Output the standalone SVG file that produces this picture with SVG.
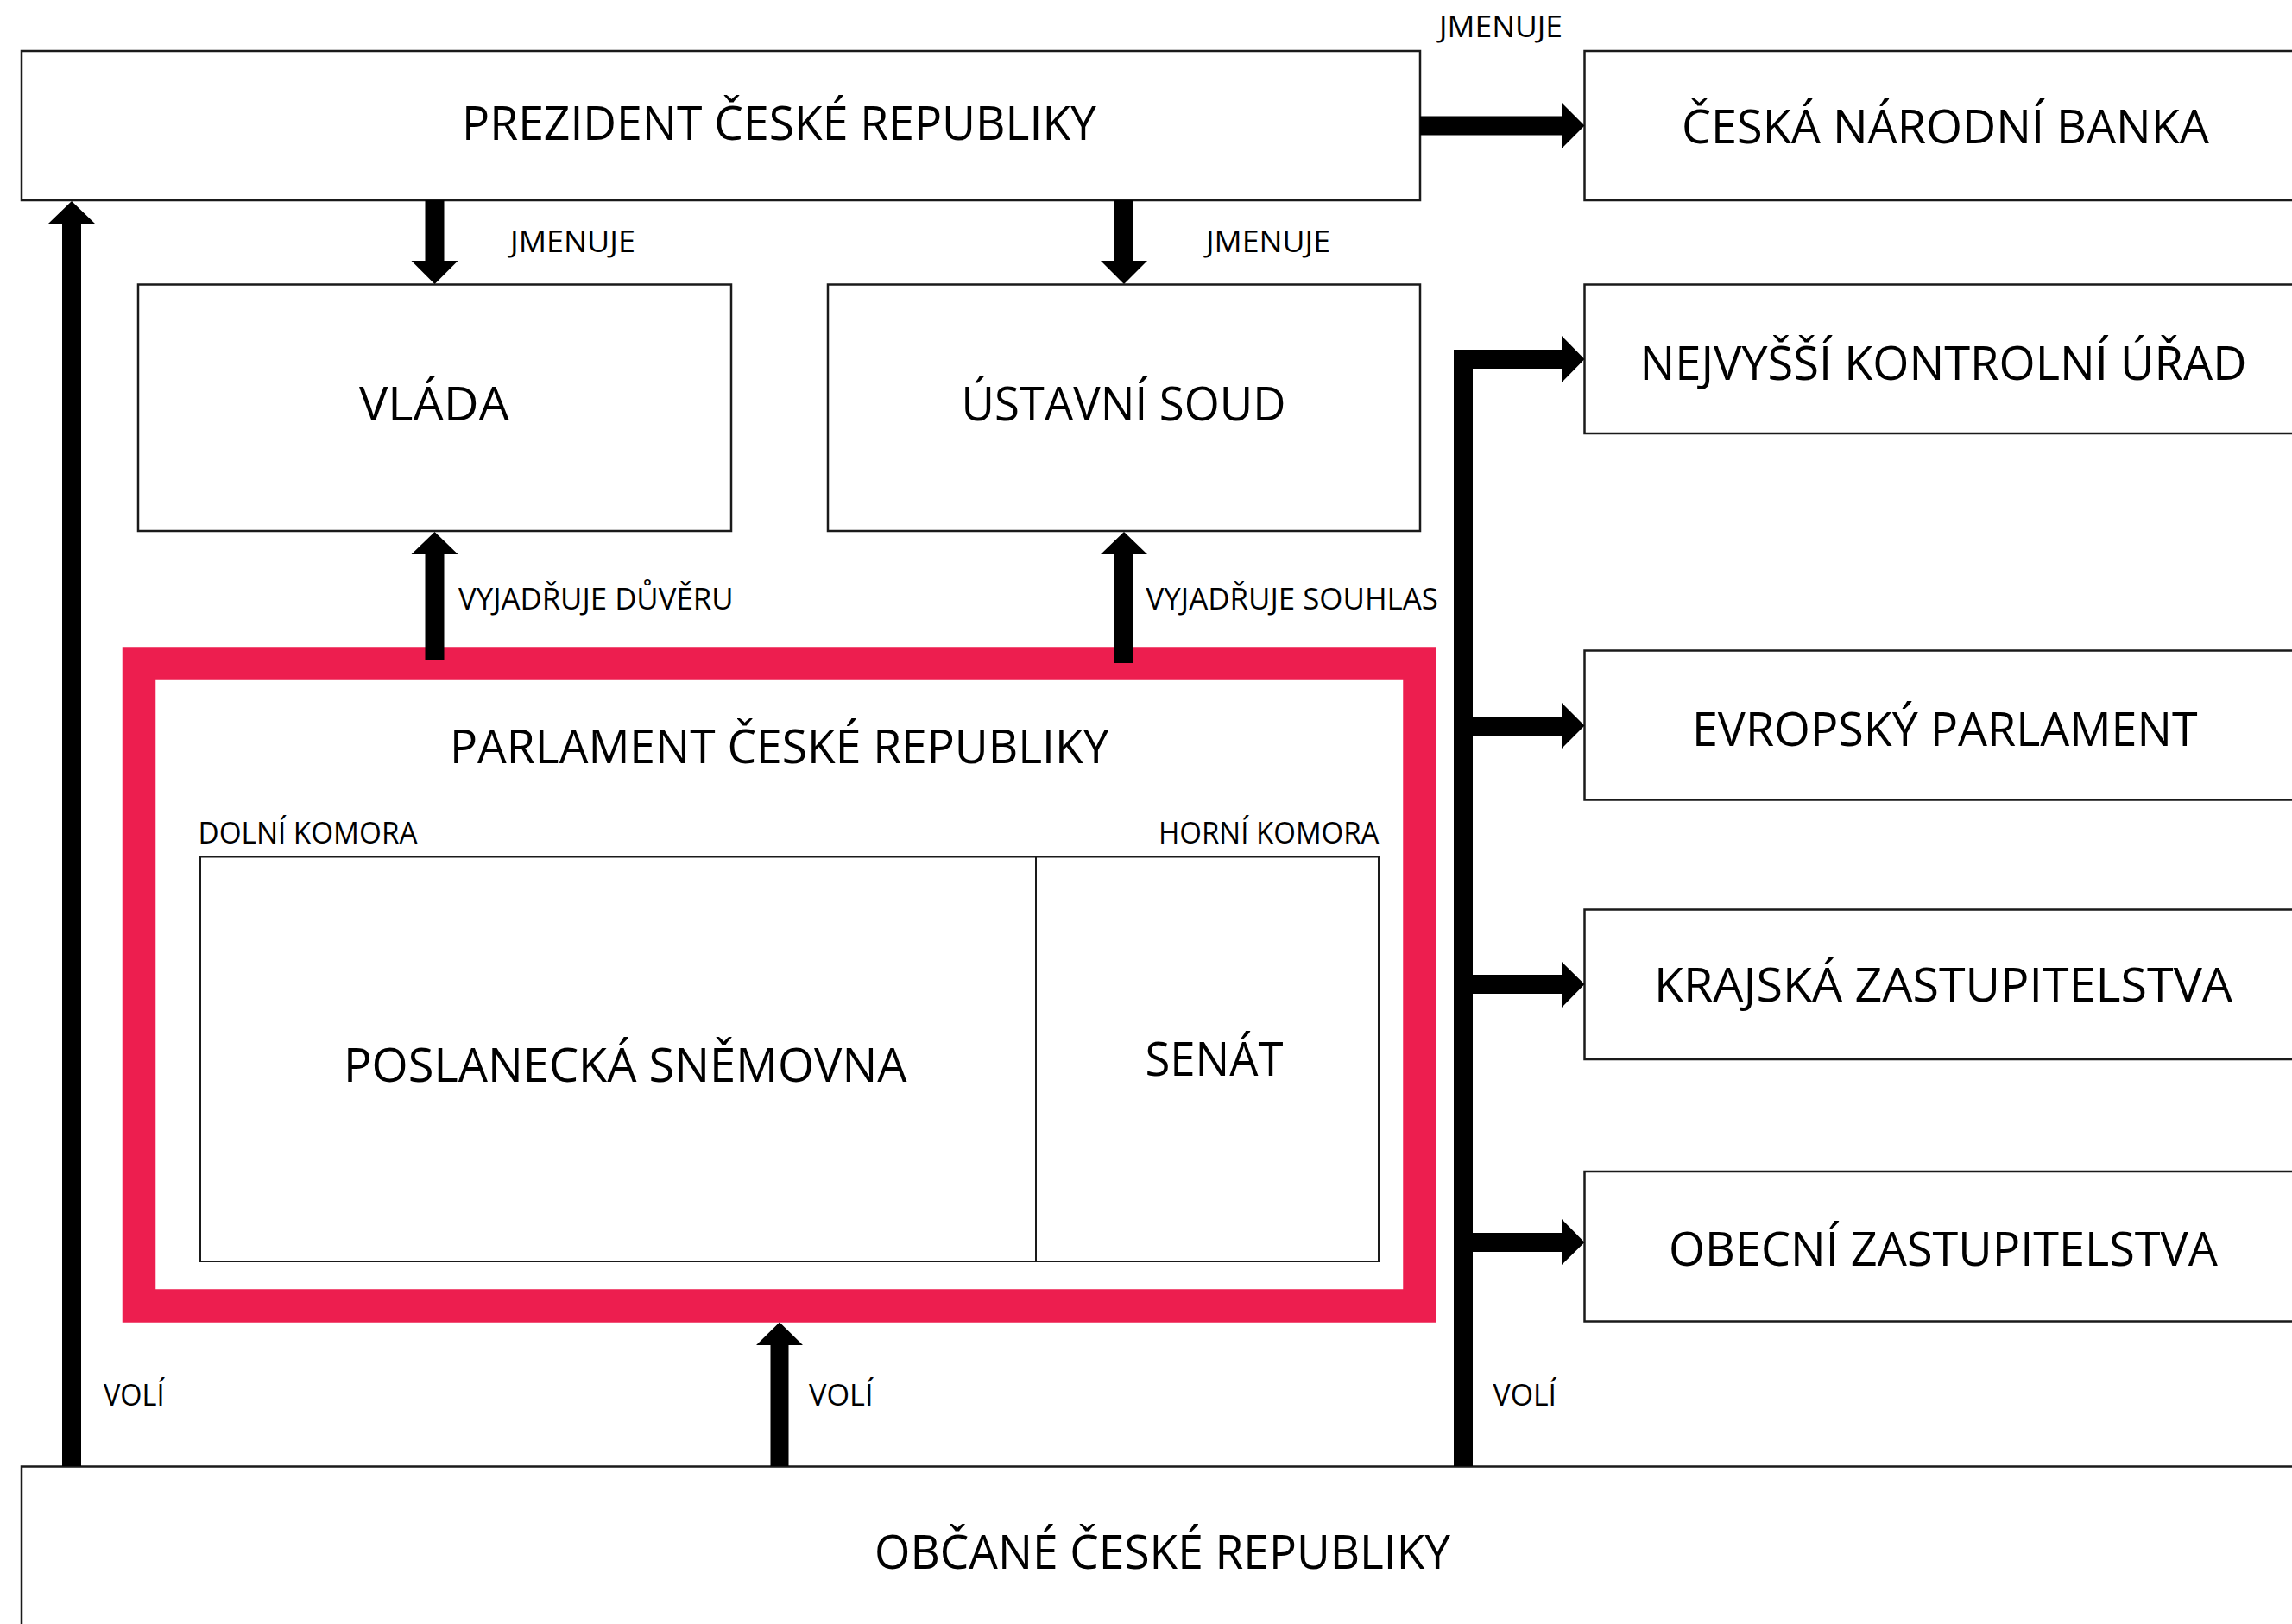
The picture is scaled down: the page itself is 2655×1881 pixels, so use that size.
<svg xmlns="http://www.w3.org/2000/svg" width="2655" height="1881" viewBox="0 0 2655 1881">
<style>
.box{fill:#fff;stroke:#1a1a1a;stroke-width:2.5}
.ibox{fill:none;stroke:#1a1a1a;stroke-width:2}
.big{font-family:"Open Sans","Noto Sans","Liberation Sans",sans-serif;font-size:55px;fill:#000}
.sm{font-family:"Open Sans","Noto Sans","Liberation Sans",sans-serif;font-size:35px;fill:#000}
.arr{fill:#000;stroke:none}
</style>
<rect x="0" y="0" width="2655" height="1881" fill="#fff"/>
<g id="prezident">
<rect class="box" x="25" y="59" width="1620" height="173"/>
<text class="big" x="535" y="161.5" textLength="735" lengthAdjust="spacingAndGlyphs">PREZIDENT ČESKÉ REPUBLIKY</text>
</g>
<g id="cnb">
<rect class="box" x="1835.5" y="59" width="900" height="173"/>
<text class="big" x="1948" y="166" textLength="611" lengthAdjust="spacingAndGlyphs">ČESKÁ NÁRODNÍ BANKA</text>
</g>
<g id="vlada">
<rect class="box" x="160" y="329.5" width="687" height="285.5"/>
<text class="big" x="416" y="487" textLength="174" lengthAdjust="spacingAndGlyphs">VLÁDA</text>
</g>
<g id="ustavni-soud">
<rect class="box" x="959" y="329.5" width="686" height="285.5"/>
<text class="big" x="1113.5" y="487" textLength="376" lengthAdjust="spacingAndGlyphs">ÚSTAVNÍ SOUD</text>
</g>
<g id="nku">
<rect class="box" x="1835.5" y="329.5" width="900" height="172.5"/>
<text class="big" x="1899.5" y="440" textLength="703" lengthAdjust="spacingAndGlyphs">NEJVYŠŠÍ KONTROLNÍ ÚŘAD</text>
</g>
<g id="parlament">
<rect x="161" y="768.5" width="1483.5" height="744" fill="#fff" stroke="#ED1E4F" stroke-width="38.5"/>
<text class="big" x="521" y="883.5" textLength="763.5" lengthAdjust="spacingAndGlyphs">PARLAMENT ČESKÉ REPUBLIKY</text>
<text class="sm" x="229.5" y="977" textLength="254" lengthAdjust="spacingAndGlyphs">DOLNÍ KOMORA</text>
<text class="sm" x="1342" y="977" textLength="255.5" lengthAdjust="spacingAndGlyphs">HORNÍ KOMORA</text>
</g>
<g id="poslanecka-snemovna">
<rect class="ibox" x="232" y="992.5" width="968" height="468.5"/>
<text class="big" x="398" y="1253" textLength="652.5" lengthAdjust="spacingAndGlyphs">POSLANECKÁ SNĚMOVNA</text>
</g>
<g id="senat">
<rect class="ibox" x="1200" y="992.5" width="397" height="468.5"/>
<text class="big" x="1326.5" y="1245.5" textLength="160" lengthAdjust="spacingAndGlyphs">SENÁT</text>
</g>
<g id="evropsky-parlament">
<rect class="box" x="1835.5" y="753.5" width="900" height="173"/>
<text class="big" x="1960" y="864" textLength="585.5" lengthAdjust="spacingAndGlyphs">EVROPSKÝ PARLAMENT</text>
</g>
<g id="krajska-zastupitelstva">
<rect class="box" x="1835.5" y="1053.5" width="900" height="173.5"/>
<text class="big" x="1916" y="1160" textLength="670" lengthAdjust="spacingAndGlyphs">KRAJSKÁ ZASTUPITELSTVA</text>
</g>
<g id="obecni-zastupitelstva">
<rect class="box" x="1835.5" y="1357" width="900" height="173.5"/>
<text class="big" x="1933" y="1466" textLength="636" lengthAdjust="spacingAndGlyphs">OBECNÍ ZASTUPITELSTVA</text>
</g>
<g id="obcane">
<rect class="box" x="25" y="1698.5" width="2700" height="250"/>
<text class="big" x="1013" y="1816.5" textLength="667" lengthAdjust="spacingAndGlyphs">OBČANÉ ČESKÉ REPUBLIKY</text>
</g>
<g id="connectors">
<polygon class="arr" points="72,1698 72,259 56,259 83,233 110,259 94,259 94,1698"/>
<polygon class="arr" points="492.5,232 514.5,232 514.5,302 530.5,302 503.5,329 476.5,302 492.5,302"/>
<polygon class="arr" points="1291,232 1313,232 1313,302 1329,302 1302,329 1275,302 1291,302"/>
<polygon class="arr" points="492.5,764 492.5,642 476.5,642 503.5,616 530.5,642 514.5,642 514.5,764"/>
<polygon class="arr" points="1291,768 1291,642 1275,642 1302,616 1329,642 1313,642 1313,768"/>
<polygon class="arr" points="1645,134.5 1809,134.5 1809,119 1835.5,145.5 1809,172 1809,156.5 1645,156.5"/>
<polygon class="arr" points="1684,1698 1684,405 1809,405 1809,389 1835.5,416 1809,443 1809,427 1706,427 1706,1698"/>
<polygon class="arr" points="1706,830 1809,830 1809,814 1835.5,840.5 1809,867 1809,852 1706,852"/>
<polygon class="arr" points="1706,1129 1809,1129 1809,1114 1835.5,1140 1809,1167 1809,1151 1706,1151"/>
<polygon class="arr" points="1706,1428 1809,1428 1809,1412 1835.5,1439 1809,1465 1809,1450 1706,1450"/>
<polygon class="arr" points="892.5,1698 892.5,1558 876,1558 903,1531.5 930,1558 913.5,1558 913.5,1698"/>
<text class="sm" x="1667" y="42.5" textLength="143" lengthAdjust="spacingAndGlyphs">JMENUJE</text>
<text class="sm" x="591" y="292" textLength="145" lengthAdjust="spacingAndGlyphs">JMENUJE</text>
<text class="sm" x="1397" y="292" textLength="144" lengthAdjust="spacingAndGlyphs">JMENUJE</text>
<text class="sm" x="531" y="706" textLength="318.5" lengthAdjust="spacingAndGlyphs">VYJADŘUJE DŮVĚRU</text>
<text class="sm" x="1327.5" y="706" textLength="338.5" lengthAdjust="spacingAndGlyphs">VYJADŘUJE SOUHLAS</text>
<text class="sm" x="120" y="1628" textLength="70.5" lengthAdjust="spacingAndGlyphs">VOLÍ</text>
<text class="sm" x="937" y="1628" textLength="74.5" lengthAdjust="spacingAndGlyphs">VOLÍ</text>
<text class="sm" x="1729.5" y="1628" textLength="73.5" lengthAdjust="spacingAndGlyphs">VOLÍ</text>
</g>
</svg>
